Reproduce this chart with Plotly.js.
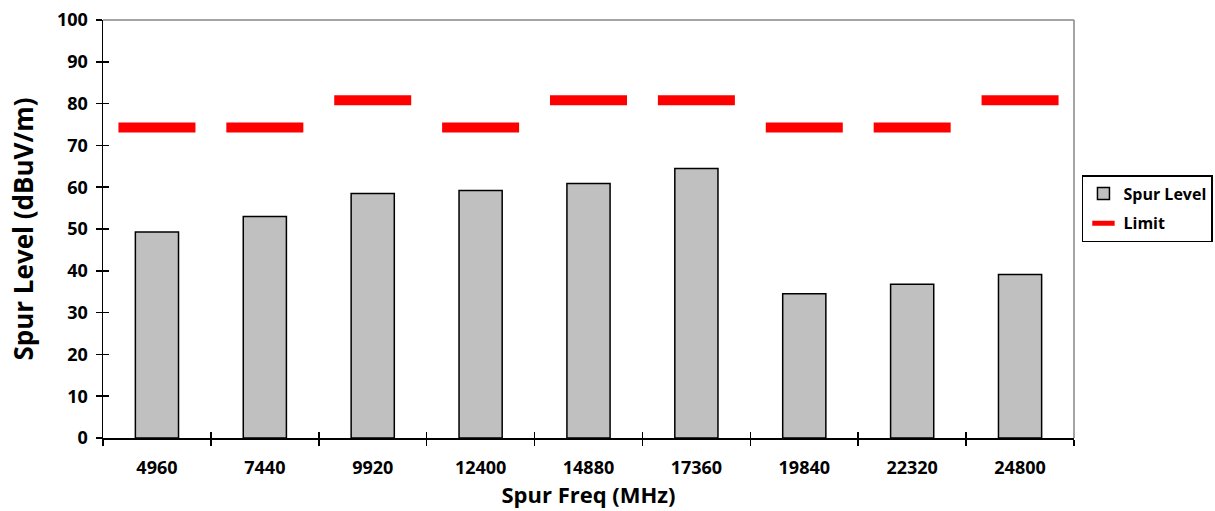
<!DOCTYPE html>
<html>
<head>
<meta charset="utf-8">
<script src="https://cdn.plot.ly/plotly-3.0.1.min.js"></script>
<style>html,body{margin:0;padding:0;background:#fff;}#chart{width:1215px;height:511px;}</style>
</head>
<body>
<div id="chart"></div>
<script>
const categories = ['4960', '7440', '9920', '12400', '14880', '17360', '19840', '22320', '24800'];
const spurLevel = [49.3, 53.0, 58.5, 59.2, 60.9, 64.5, 34.5, 36.8, 39.1];
const limit = [74.3, 74.3, 80.8, 74.3, 80.8, 80.8, 74.3, 74.3, 80.8];
const yTicks = [0, 10, 20, 30, 40, 50, 60, 70, 80, 90, 100];

const FONT = 'Open Sans, Noto Sans, sans-serif';
const boundaries = categories.map((c, i) => i - 0.5).concat([categories.length - 0.5]);
const xRange = [-0.5, categories.length - 0.5];

const traces = [
  {
    type: 'bar',
    name: 'Spur Level',
    x: categories,
    y: spurLevel,
    marker: {color: '#c0c0c0', line: {color: '#000000', width: 1.5}},
    legendgroup: 'a',
    hoverinfo: 'x+y'
  },
  {
    type: 'scatter',
    mode: 'markers',
    name: 'Limit',
    x: categories,
    y: limit,
    marker: {symbol: 'line-ew', size: 55, color: '#ff0000', line: {color: '#ff0000', width: 10}},
    legendgroup: 'b',
    hoverinfo: 'x+y'
  },
  {
    type: 'scatter',
    mode: 'markers',
    x: [],
    y: [],
    xaxis: 'x2',
    yaxis: 'y2',
    showlegend: false,
    hoverinfo: 'skip'
  }
];

const layout = {
  width: 1215,
  height: 511,
  margin: {l: 103, r: 141, t: 20, b: 73, pad: 0, autoexpand: false},
  paper_bgcolor: '#ffffff',
  plot_bgcolor: '#ffffff',
  font: {family: FONT, color: '#000000', weight: 'bold'},
  bargap: 0.6,
  showlegend: true,
  legend: {
    x: 1.0082, y: 0.549, xanchor: 'left', yanchor: 'middle',
    bordercolor: '#000000', borderwidth: 1.5, bgcolor: '#ffffff',
    font: {family: FONT, size: 16, weight: 'bold', color: '#000000'},
    traceorder: 'grouped', tracegroupgap: 6,
    itemwidth: 30
  },
  xaxis: {
    type: 'category',
    range: xRange,
    autorange: false,
    tickson: 'boundaries',
    ticks: 'outside', ticklen: 6, tickwidth: 1.5, tickcolor: '#000000',
    showline: true, linecolor: '#000000', linewidth: 1.5,
    showgrid: false, zeroline: false,
    tickfont: {family: FONT, size: 18, weight: 'bold', color: '#000000'},
    ticklabelstandoff: 13,
    automargin: false,
    title: {text: 'Spur Freq (MHz)', font: {family: FONT, size: 22, weight: 'bold', color: '#000000'}, standoff: 3}
  },
  yaxis: {
    range: [0, 100],
    autorange: false,
    tickvals: yTicks,
    ticks: 'outside', ticklen: 6, tickwidth: 1.5, tickcolor: '#000000',
    showline: true, linecolor: '#000000', linewidth: 1.5,
    showgrid: false, zeroline: false,
    tickfont: {family: FONT, size: 18, weight: 'bold', color: '#000000'},
    ticklabelstandoff: 4,
    automargin: false,
    title: {text: 'Spur Level (dBuV/m)', font: {family: FONT, size: 26, weight: 'bold', color: '#000000'}, standoff: 16}
  },
  xaxis2: {
    overlaying: 'x', anchor: 'y',
    range: xRange,
    tickvals: boundaries,
    ticks: 'inside', ticklen: 6, tickwidth: 1.5, tickcolor: '#000000',
    showticklabels: false, showline: false, showgrid: false, zeroline: false
  },
  yaxis2: {
    overlaying: 'y', anchor: 'x', side: 'left',
    range: [0, 100],
    tickvals: yTicks,
    ticks: 'inside', ticklen: 6, tickwidth: 1.5, tickcolor: '#000000',
    showticklabels: false, showline: false, showgrid: false, zeroline: false
  },
  shapes: [
    {type: 'line', xref: 'paper', yref: 'paper', x0: 0, x1: 1, y0: 1, y1: 1, line: {color: '#868686', width: 1.5}},
    {type: 'line', xref: 'paper', yref: 'paper', x0: 1, x1: 1, y0: 0, y1: 1, line: {color: '#868686', width: 1.5}}
  ]
};

Plotly.newPlot('chart', traces, layout, {displayModeBar: false, staticPlot: true});
</script>
</body>
</html>
